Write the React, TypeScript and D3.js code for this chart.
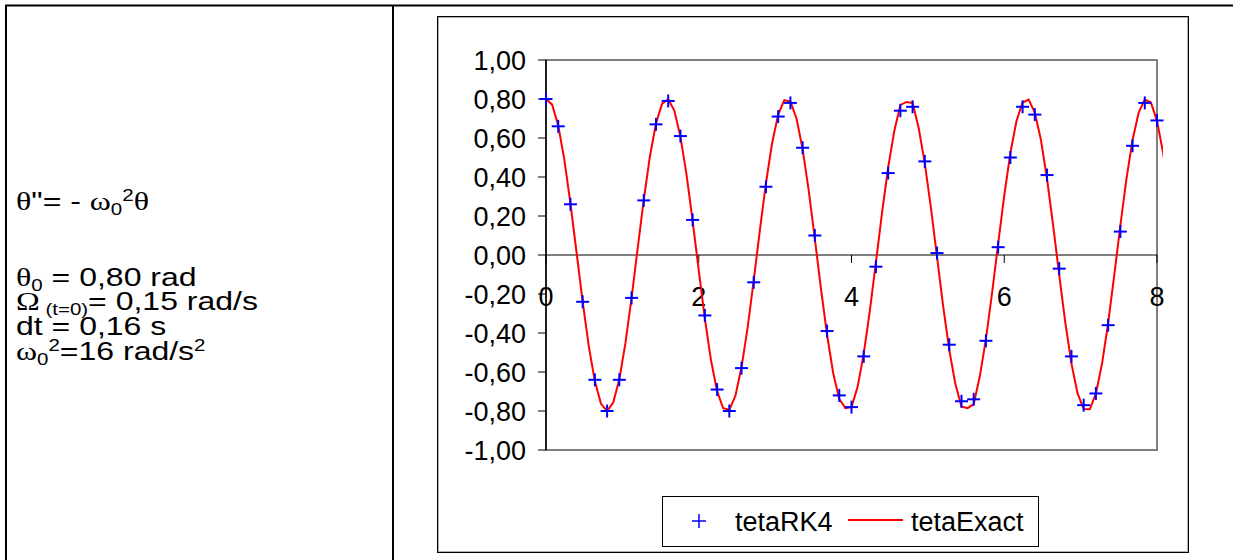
import React from "react";
import * as d3 from "d3";

// ---- data ----
const rk4Step = 0.16;
const rk4Values = [
  0.80, 0.66, 0.26, -0.24, -0.64, -0.80, -0.64, -0.22, 0.28, 0.67,
  0.79, 0.61, 0.18, -0.31, -0.69, -0.80, -0.58, -0.14, 0.35, 0.71,
  0.78, 0.55, 0.10, -0.39, -0.72, -0.78, -0.52, -0.06, 0.42, 0.74,
  0.76, 0.48, 0.01, -0.46, -0.75, -0.74, -0.44, 0.04, 0.50, 0.76,
  0.72, 0.41, -0.07, -0.52, -0.77, -0.71, -0.36, 0.12, 0.56, 0.78,
  0.69,
];
const exactStep = 0.08;
const exactValues = [
  0.800, 0.771, 0.664, 0.489, 0.265, 0.014, -0.239, -0.467, -0.648, -0.763,
  -0.801, -0.757, -0.637, -0.452, -0.221, 0.033, 0.283, 0.504, 0.674, 0.776,
  0.799, 0.741, 0.607, 0.412, 0.175, -0.079, -0.326, -0.539, -0.698, -0.786,
  -0.794, -0.722, -0.576, -0.372, -0.130, 0.126, 0.368, 0.573, 0.720, 0.794,
  0.787, 0.700, 0.543, 0.330, 0.083, -0.172, -0.409, -0.605, -0.739, -0.785,
  -0.780, -0.676, -0.507, -0.286, -0.037, 0.217, 0.449, 0.635, 0.770, 0.785,
  0.780, 0.650, 0.470, 0.242, -0.010, -0.262, -0.487, -0.662, -0.778, -0.785,
  -0.765, -0.622, -0.431, -0.197, 0.057, 0.305, 0.523, 0.687, 0.782, 0.797,
  0.731, 0.591, 0.391, 0.152, -0.103, -0.348, -0.557, -0.710, -0.790, -0.791,
  -0.711, -0.558, -0.350, -0.105, 0.150, 0.390, 0.590, 0.730, 0.797, 0.782,
  0.688, 0.524, 0.307,
];
const yTicks = [-1, -0.8, -0.6, -0.4, -0.2, 0, 0.2, 0.4, 0.6, 0.8, 1];
const xTicks = [0, 2, 4, 6, 8];
const seriesNames = ["tetaRK4", "tetaExact"];

const fmtY = (v: number) => {
  const s = Math.abs(v).toFixed(2).replace(".", ",");
  return (v < -1e-9 ? "-" : "") + s;
};

const W = 1233;
const H = 560;
const GREEK = "'Liberation Serif', 'DejaVu Serif', serif";
const SANS = "'Liberation Sans', Arial, sans-serif";

export default function App() {
  const x = d3.scaleLinear().domain([0, 8]).range([546, 1157]);
  const y = d3.scaleLinear().domain([-1, 1]).range([450, 60]);

  const rk4 = rk4Values.map((v, i) => ({ t: i * rk4Step, v }));
  const exact = exactValues.map((v, i) => ({ t: i * exactStep, v }));
  const line = d3
    .line<{ t: number; v: number }>()
    .x((d) => x(d.t))
    .y((d) => y(d.v));

  const [x0, x1] = x.range();
  const [yb, yt] = y.range();
  const y0 = y(0);
  const mk = 6.5;

  const leftFs = 25;
  const sub = { fontSize: 16 } as const;

  return (
    <svg
      width={W}
      height={H}
      style={{ position: "absolute", left: 0, top: 0, background: "#fff" }}
      fontFamily={SANS}
    >
      <defs>
        <clipPath id="clipPlot">
          <rect x={x0 - 2} y={yt - 10} width={x1 - x0 + 8} height={yb - yt + 20} />
        </clipPath>
      </defs>

      {/* outer table */}
      <line x1={5} y1={5.5} x2={W} y2={5.5} stroke="#000" strokeWidth={2} />
      <line x1={6} y1={5} x2={6} y2={H} stroke="#000" strokeWidth={2} />
      <line x1={393} y1={5} x2={393} y2={H} stroke="#000" strokeWidth={2} />

      {/* left text (horizontally widened like the reference) */}
      <g fontSize={leftFs} fill="#000" transform="translate(16,0) scale(1.28,1)">
        <text x={0} y={210}>
          <tspan fontFamily={GREEK}>θ</tspan>"= - <tspan fontFamily={GREEK}>ω</tspan>
          <tspan {...sub} dy={5}>0</tspan>
          <tspan {...sub} dy={-14}>2</tspan>
          <tspan dy={9} fontFamily={GREEK}>θ</tspan>
        </text>
        <text x={0} y={286}>
          <tspan fontFamily={GREEK}>θ</tspan>
          <tspan {...sub} dy={5}>0</tspan>
          <tspan dy={-5}> = 0,80 rad</tspan>
        </text>
        <text x={0} y={310}>
          <tspan fontFamily={GREEK}>Ω</tspan>
          <tspan {...sub} dy={5}> (t=0)</tspan>
          <tspan dy={-5}>= 0,15 rad/s</tspan>
        </text>
        <text x={0} y={335}>dt = 0,16 s</text>
        <text x={0} y={360}>
          <tspan fontFamily={GREEK}>ω</tspan>
          <tspan {...sub} dy={5}>0</tspan>
          <tspan {...sub} dy={-14}>2</tspan>
          <tspan dy={9}>=16 rad/s</tspan>
          <tspan {...sub} dy={-9}>2</tspan>
        </text>
      </g>

      {/* chart frame */}
      <rect x={437.5} y={16.5} width={751} height={536} fill="#fff" stroke="#000" strokeWidth={1} />
      <rect x={438.5} y={17.5} width={749} height={534} fill="none" stroke="#b0b0b0" strokeWidth={1} />

      {/* plot area border */}
      <rect x={x0} y={yt} width={x1 - x0} height={yb - yt} fill="#fff" stroke="#808080" strokeWidth={2} />

      {/* y axis */}
      <line x1={x0} y1={yt} x2={x0} y2={yb} stroke="#000" strokeWidth={1.5} />
      {yTicks.map((v) => (
        <g key={v}>
          <line x1={x0 - 8} x2={x0} y1={y(v)} y2={y(v)} stroke="#000" strokeWidth={1} />
          <text x={526} y={y(v)} dy="0.36em" textAnchor="end" fontSize={27}>
            {fmtY(v)}
          </text>
        </g>
      ))}

      {/* x axis at y=0 */}
      <line x1={x0} y1={y0} x2={x1} y2={y0} stroke="#000" strokeWidth={1} />
      {xTicks.map((t) => (
        <g key={t}>
          <line x1={x(t)} x2={x(t)} y1={y0} y2={y0 + 8} stroke="#000" strokeWidth={1} />
          <text x={x(t)} y={y0 + 51} textAnchor="middle" fontSize={27}>
            {t}
          </text>
        </g>
      ))}

      {/* exact line */}
      <path
        d={line(exact) || ""}
        fill="none"
        stroke="#ff0000"
        strokeWidth={2}
        clipPath="url(#clipPlot)"
      />

      {/* RK4 markers */}
      {rk4.map((d, i) => (
        <g key={i} stroke="#0000ff" strokeWidth={2}>
          <line x1={x(d.t) - mk} x2={x(d.t) + mk} y1={y(d.v)} y2={y(d.v)} />
          <line x1={x(d.t)} x2={x(d.t)} y1={y(d.v) - mk} y2={y(d.v) + mk} />
        </g>
      ))}

      {/* legend */}
      <rect x={662.5} y={496.5} width={376} height={50} fill="#fff" stroke="#000" strokeWidth={1} />
      <g stroke="#0000ff" strokeWidth={1.5}>
        <line x1={692} x2={706} y1={521} y2={521} />
        <line x1={699} x2={699} y1={514} y2={528} />
      </g>
      <text x={735} y={531} fontSize={27}>
        {seriesNames[0]}
      </text>
      <line x1={848} x2={903} y1={520} y2={520} stroke="#ff0000" strokeWidth={2} />
      <text x={911} y={531} fontSize={27}>
        {seriesNames[1]}
      </text>
    </svg>
  );
}
